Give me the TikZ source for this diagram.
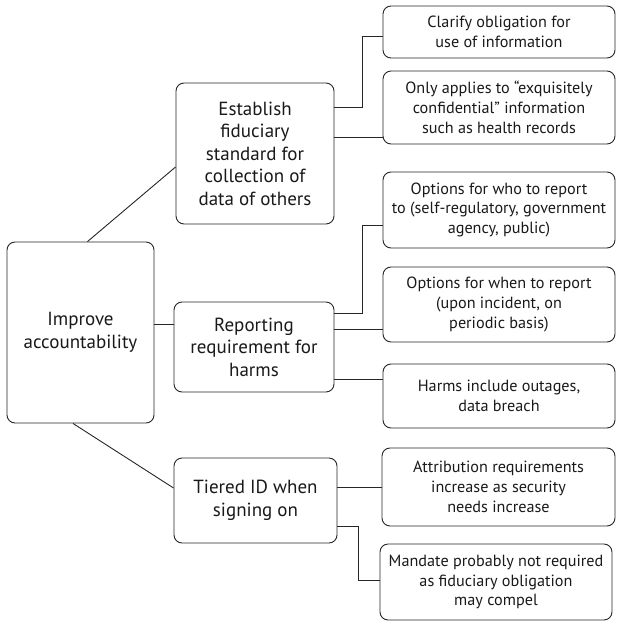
\documentclass[tikz,border=0pt]{standalone}
\usepackage{fontspec}
\setmainfont{PT Sans}
\begin{document}
\begin{tikzpicture}[x=1pt,y=-1pt,
  box/.style={draw=black!85, line width=0.9pt, rounded corners=8pt, align=center,
    inner sep=2pt, font=\fontsize{19}{22.5}\selectfont, text=black!90},
  leaf/.style={box, font=\fontsize{16.2}{19.8}\selectfont},
  link/.style={draw=black!85, line width=0.9pt}]
\useasboundingbox (0,0) rectangle (616,621);

% main topic and its three branches
\node[box, minimum width=147pt, minimum height=181pt] (root) at (80.5,332.5) {Improve\\accountability};
\node[box, minimum width=158pt, minimum height=141pt] (est) at (255,153.5)
  {Establish\\fiduciary\\standard for\\collection of\\data of others};
\node[box, minimum width=160pt, minimum height=90pt] (rep) at (254,347)
  {Reporting\\requirement for\\harms};
\node[box, minimum width=163pt, minimum height=85pt] (tier) at (255.5,500.5)
  {Tiered ID when\\signing on};

% details
\node[leaf, minimum width=232pt, minimum height=52pt] (clar) at (499,32)
  {Clarify obligation for\\use of information};
\node[leaf, minimum width=232pt, minimum height=73pt] (only) at (499,107.5)
  {Only applies to “exquisitely\\confidential” information\\such as health records};
\node[leaf, minimum width=232pt, minimum height=76pt] (who) at (499,210)
  {Options for who to report\\to (self-regulatory, government\\agency, public)};
\node[leaf, minimum width=232pt, minimum height=75pt] (when) at (499,304.5)
  {Options for when to report\\(upon incident, on\\periodic basis)};
\node[leaf, minimum width=232pt, minimum height=64pt] (harm) at (499,396)
  {Harms include outages,\\data breach};
\node[leaf, minimum width=233pt, minimum height=78pt] (attr) at (498.5,487)
  {Attribution requirements\\increase as security\\needs increase};
\node[leaf, minimum width=232pt, minimum height=76pt] (mand) at (496,582)
  {Mandate probably not required\\as fiduciary obligation\\may compel};

% root connectors
\draw[link] ([xshift=7pt]root.north) -- ([yshift=-13.5pt]est.west);
\coordinate (r2) at ([yshift=8.5pt]root.east);
\draw[link] (r2) -- (r2 -| rep.west);
\draw[link] ([xshift=-7.5pt]root.south) -- ([yshift=12.5pt]tier.west);

% fiduciary standard
\draw[link] ([yshift=46.5pt]est.east) -- ++(28pt,0) |- ([yshift=-4pt]clar.west);
\coordinate (e2) at ([yshift=16.5pt]est.east);
\draw[link] (e2) -- (e2 -| only.west);

% reporting
\draw[link] ([yshift=34pt]rep.east) -- ++(28pt,0) |- ([yshift=-15pt]who.west);
\coordinate (p2) at ([yshift=18pt]rep.east);
\draw[link] (p2) -- (p2 -| when.west);
\coordinate (p3) at ([yshift=-32pt]rep.east);
\draw[link] (p3) -- (p3 -| harm.west);

% tiered ID
\coordinate (t1) at ([yshift=13.5pt]tier.east);
\draw[link] (t1) -- (t1 -| attr.west);
\draw[link] ([yshift=-25.5pt]tier.east) -- ++(21pt,0) |- ([yshift=2pt]mand.west);
\end{tikzpicture}
\end{document}
